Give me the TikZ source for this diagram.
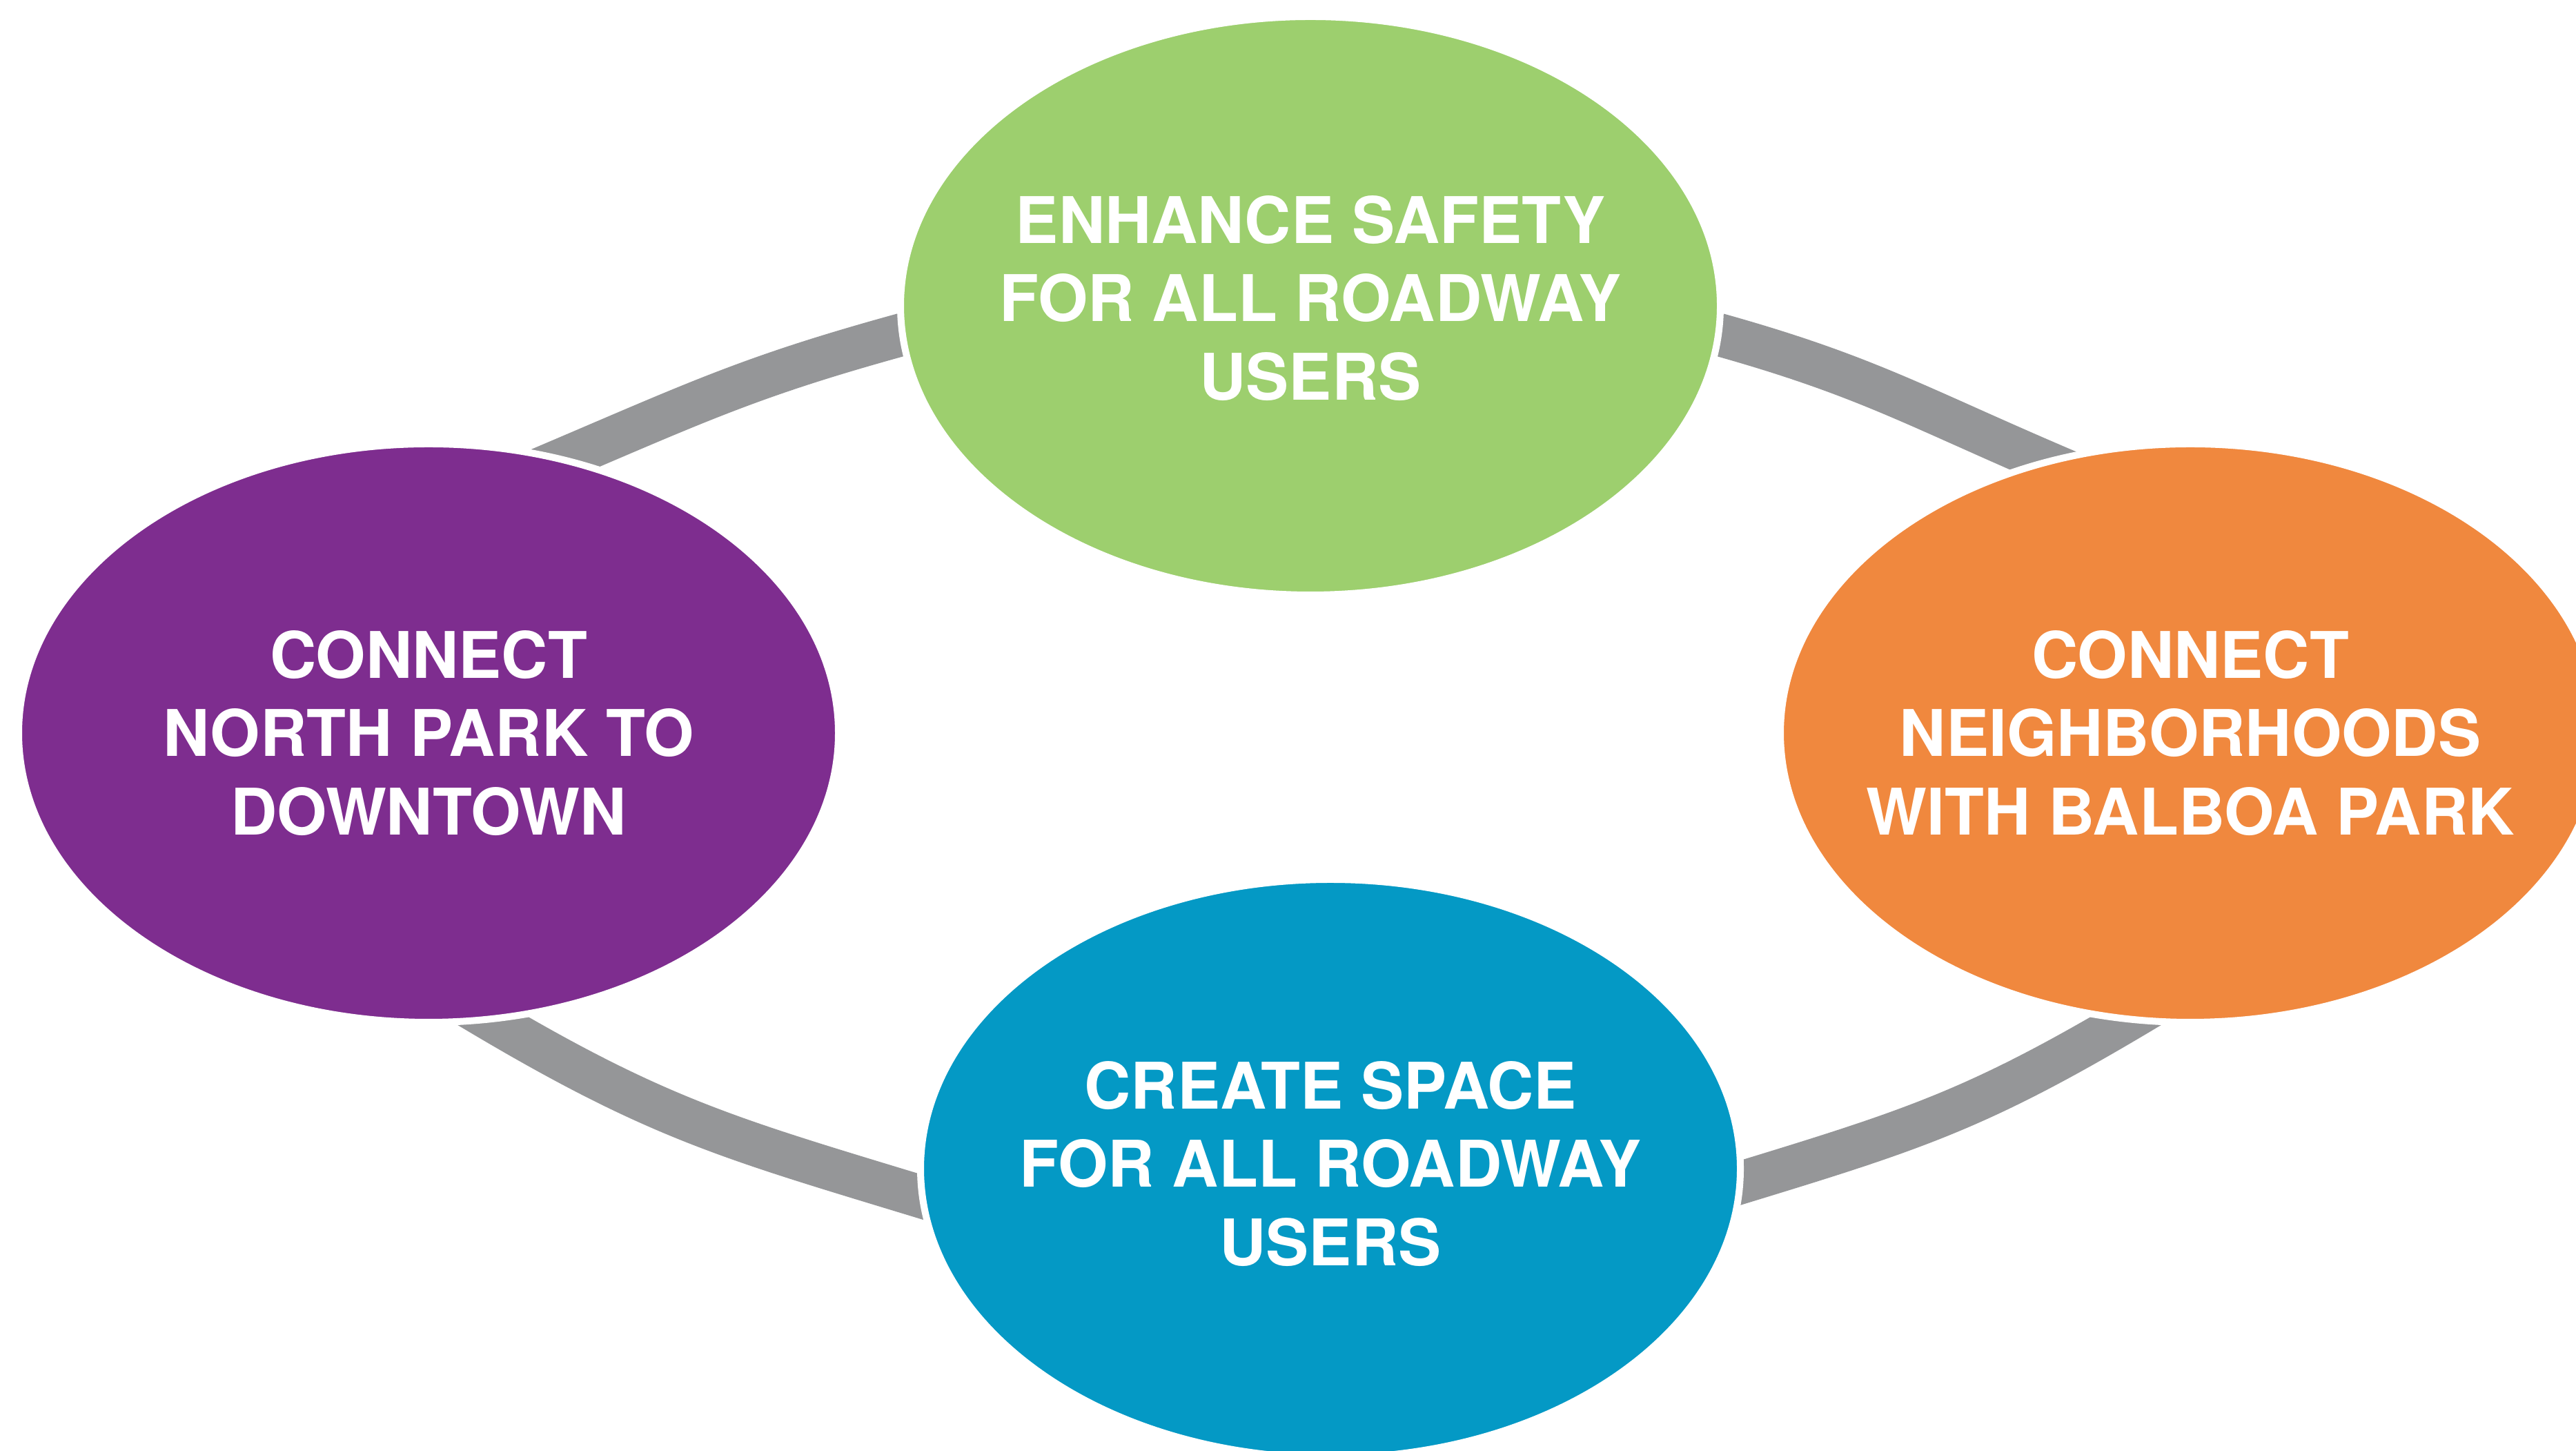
\documentclass[tikz,border=0pt]{standalone}
\usepackage{fontspec}
\setmainfont{TeX Gyre Heros}
\usetikzlibrary{shapes.geometric,backgrounds}

\definecolor{goalgreen}{HTML}{9DCF6E}
\definecolor{goalpurple}{HTML}{7E2D8F}
\definecolor{goalorange}{HTML}{F0883E}
\definecolor{goalblue}{HTML}{0499C5}
\definecolor{bandgray}{HTML}{959698}

\begin{document}
\begin{tikzpicture}[
	goal/.style = {ellipse, draw=white, line width=1mm, minimum width=11.88cm, minimum height=8.38cm, inner sep=0pt, outer sep=0pt},
	goaltext/.style = {text=white, align=center, font=\bfseries\fontsize{26.5}{32.4}\selectfont},
	band/.style = {draw=bandgray, line width=6.2mm, looseness=1.1, shorten <=-4mm, shorten >=-4mm}
]
	\clip (0,0) rectangle (37.33,21.02);
	\node[goal, fill=goalgreen]  (safety)    at (18.99,16.59) {};
	\node[goal, fill=goalpurple] (northpark) at (6.21,10.40)  {};
	\node[goal, fill=goalorange] (balboa)    at (31.74,10.40) {};
	\node[goal, fill=goalblue]   (space)     at (19.28,4.09)  {};
	\node[goaltext, yshift=1.1mm] (safetytext) at (safety) {ENHANCE SAFETY\\FOR ALL ROADWAY\\USERS};
	\node[goaltext] (northparktext) at (northpark) {CONNECT\\NORTH PARK TO\\DOWNTOWN};
	\node[goaltext] (balboatext)    at (balboa)    {CONNECT\\NEIGHBORHOODS\\WITH BALBOA PARK};
	\node[goaltext, yshift=0.7mm] (spacetext) at (space) {CREATE SPACE\\FOR ALL ROADWAY\\USERS};
	\begin{scope}[on background layer]
		\draw[band] (safety.184) to[out=195,in=23] (northpark.64);
		\draw[band] (safety.356) to[out=345,in=157] (balboa.118);
		\draw[band] (northpark.282) to[out=329,in=163] (space.184);
		\draw[band] (balboa.258) to[out=211,in=17] (space.358);
	\end{scope}
\end{tikzpicture}
\end{document}
